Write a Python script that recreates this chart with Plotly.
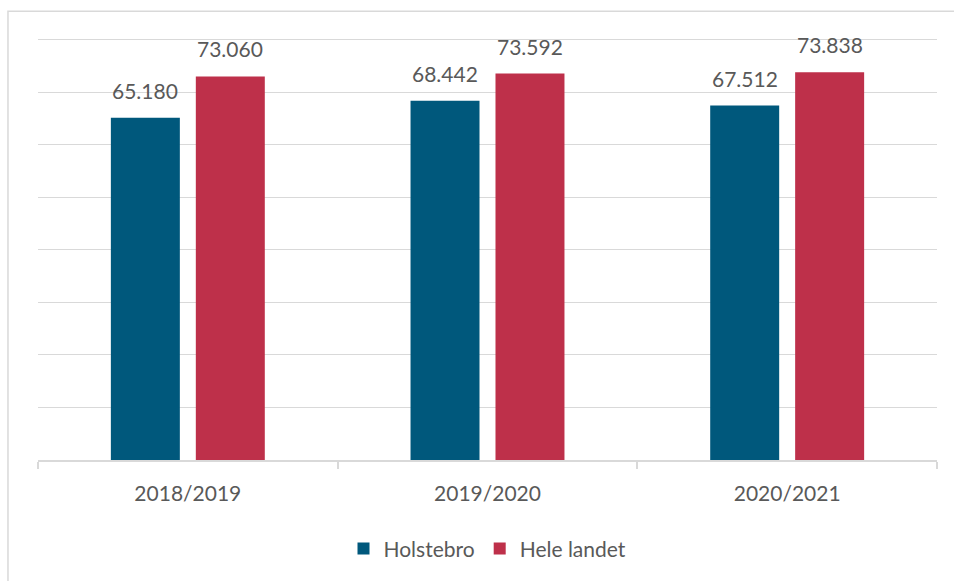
import plotly.graph_objects as go

categories = ["2018/2019", "2019/2020", "2020/2021"]
holstebro = [65180, 68442, 67512]
hele_landet = [73060, 73592, 73838]
series_names = ["Holstebro", "Hele landet"]

BLUE = "#00587C"
RED = "#BE304A"
TXT = "#595959"
GRID = "#D9D9D9"
FONT = "Lato"

series = [(series_names[0], holstebro, BLUE, -42.5), (series_names[1], hele_landet, RED, 42.5)]

fig = go.Figure()
annotations = []
for name, vals, col, shift in series:
    fig.add_trace(go.Bar(
        x=categories, y=vals, name=name, marker=dict(color=col, line=dict(width=0)),
        hoverinfo="skip",
    ))
    for c, v in zip(categories, vals):
        annotations.append(dict(
            x=c, y=v, xref="x", yref="y", text=f"{v:,}".replace(",", "."),
            showarrow=False, xanchor="center", yanchor="bottom",
            xshift=shift, yshift=13,
            font=dict(family=FONT, size=21, color=TXT),
        ))

fig.update_layout(
    width=954, height=581,
    margin=dict(l=38, r=17, t=38, b=116),
    paper_bgcolor="white", plot_bgcolor="white",
    barmode="group", bargap=0.433, bargroupgap=0.188,
    font=dict(family=FONT, size=21, color=TXT),
    showlegend=True,
    legend=dict(orientation="h", x=0.5, xanchor="center", y=-0.2107, yanchor="middle",
                font=dict(family=FONT, size=21, color=TXT), itemwidth=30,
                traceorder="normal"),
    xaxis=dict(showgrid=False, showline=True, linecolor=GRID, linewidth=1.5,
               ticks="outside", tickson="boundaries", ticklen=7, tickcolor=GRID, tickwidth=1.5,
               tickfont=dict(family=FONT, size=21, color=TXT), ticklabelstandoff=14),
    yaxis=dict(range=[0, 80376], tick0=0, dtick=10000, showgrid=True, gridcolor=GRID, gridwidth=1,
               showticklabels=False, zeroline=False, showline=False),
    annotations=annotations,
    shapes=[dict(type="rect", xref="paper", yref="paper",
                 x0=-0.0334, x1=1.1, y0=-0.4, y1=1.0632,
                 line=dict(color=GRID, width=1.5), fillcolor="rgba(0,0,0,0)", layer="below")],
)

fig.write_html("out.html", config={"displayModeBar": False},
               post_script="document.body.style.margin='0';document.body.style.overflow='hidden';")
